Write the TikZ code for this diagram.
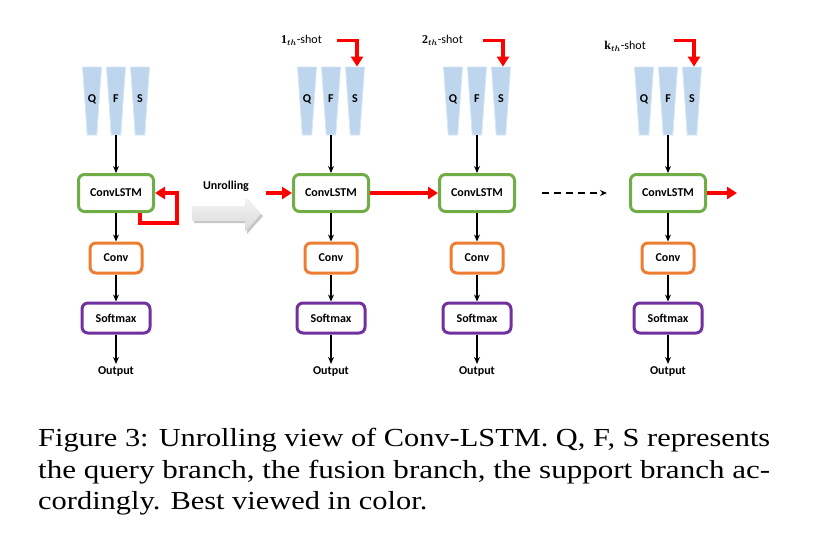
\documentclass[tikz,border=0pt]{standalone}
\usepackage{amsmath}
\usepackage{graphicx}
\usepackage{fontspec}
\setmainfont{Liberation Serif}
\newfontfamily\labelfont{Carlito}
\usetikzlibrary{positioning}
\usetikzlibrary{arrows.meta}
\usetikzlibrary{shapes.geometric}

\definecolor{boxgreen}{RGB}{112,173,71}
\definecolor{boxorange}{RGB}{237,125,49}
\definecolor{boxpurple}{RGB}{112,48,160}
\definecolor{branchblue}{RGB}{189,214,238}

\begin{document}
\begin{tikzpicture}[x=1pt, y=-1pt,
    font=\labelfont\bfseries\fontsize{12}{14}\selectfont,
    modbox/.style={draw=#1, line width=3pt, rounded corners=6pt, fill=white, inner sep=0pt},
    lstmbox/.style={modbox=boxgreen, minimum width=75pt, minimum height=37pt},
    convbox/.style={modbox=boxorange, minimum width=52pt, minimum height=30pt},
    softbox/.style={modbox=boxpurple, minimum width=68pt, minimum height=30pt},
    branch/.style={trapezium, shape border rotate=180, trapezium stretches body,
        trapezium angle=86, minimum width=19pt, inner sep=0pt,
        text height=35.5pt, text depth=32.5pt,
        fill=branchblue, draw=branchblue!60!white, line width=.8pt},
    flow/.style={-{Stealth[length=7pt,width=6pt]}, line width=1.5pt},
    redflow/.style={-{Triangle[length=10pt,width=12pt]}, line width=3.5pt, red},
    caption/.style={anchor=base west, inner sep=0pt, font=\rmfamily\mdseries\fontsize{26}{30}\selectfont}]

\useasboundingbox (0,0) rectangle (828,558);

\foreach \i/\x in {1/116, 2/331, 3/477, 4/668}{
    \node[branch] (q\i) at (\x-24,101) {Q};
    \node[branch] (f\i) at (\x,101) {F};
    \node[branch] (s\i) at (\x+24,101) {S};
    \node[lstmbox] (lstm\i) at (\x,193) {ConvLSTM};
    \node[convbox] (conv\i) at (\x,258) {Conv};
    \node[softbox] (soft\i) at (\x,318) {Softmax};
    \node[inner sep=3pt] (res\i) at (\x,372) {Output};
    \draw[flow] (f\i) -- (lstm\i);
    \draw[flow] (lstm\i) -- (conv\i);
    \draw[flow] (conv\i) -- (soft\i);
    \draw[flow] (soft\i) -- (res\i);
}

% k-th shot inputs
\foreach \i/\k/\gap/\dy in {2/1/15/0, 3/2/20/0, 4/k/28/-6}{
    \coordinate[above left=26pt and 18pt of s\i.north] (shot\i);
    \draw[redflow] (shot\i) -| ([xshift=2pt]s\i.north);
    \node[left=\gap pt of shot\i, yshift=\dy pt, inner sep=0pt] (lab\i)
        {$\mathbf{\k}_{\boldsymbol{th}}${\mdseries -shot}};
}

% recurrent loop
\coordinate (loop) at (177,223);
\draw[redflow] ([xshift=24pt]lstm1.south) |- (loop) |- (lstm1.east);

% unrolling arrow
\fill[gray!45] (194,208) -- (247,208) -- (247,199) -- (263,216) -- (247,234) -- (247,223) -- (194,223) -- cycle;
\shade[top color=gray!8, bottom color=gray!30] (192,206) -- (245,206) -- (245,197) -- (261,214) -- (245,232) -- (245,221) -- (192,221) -- cycle;
\node (unroll) at (226,186) {Unrolling};

\coordinate (enter) at (266,193);
\coordinate (exit) at (737,193);
\draw[redflow] (enter) -- (lstm2);
\draw[redflow] (lstm2) -- (lstm3);
\draw[redflow] (lstm4) -- (exit);

\coordinate (dashA) at (542,193);
\coordinate (dashB) at (607,193);
\draw[flow, line width=1.3pt, dash pattern=on 7pt off 5pt] (dashA) -- (dashB);

\node[caption] (cap1) at (38,446) {\resizebox{732pt}{\height}{Figure 3: Unrolling view of Conv-LSTM. Q, F, S represents}};
\node[caption] (cap2) at (38,478) {\resizebox{732pt}{\height}{the query branch, the fusion branch, the support branch ac-}};
\node[caption] (cap3) at (38,509) {\scalebox{1.17}[1]{cordingly. Best viewed in color.}};

\end{tikzpicture}
\end{document}
